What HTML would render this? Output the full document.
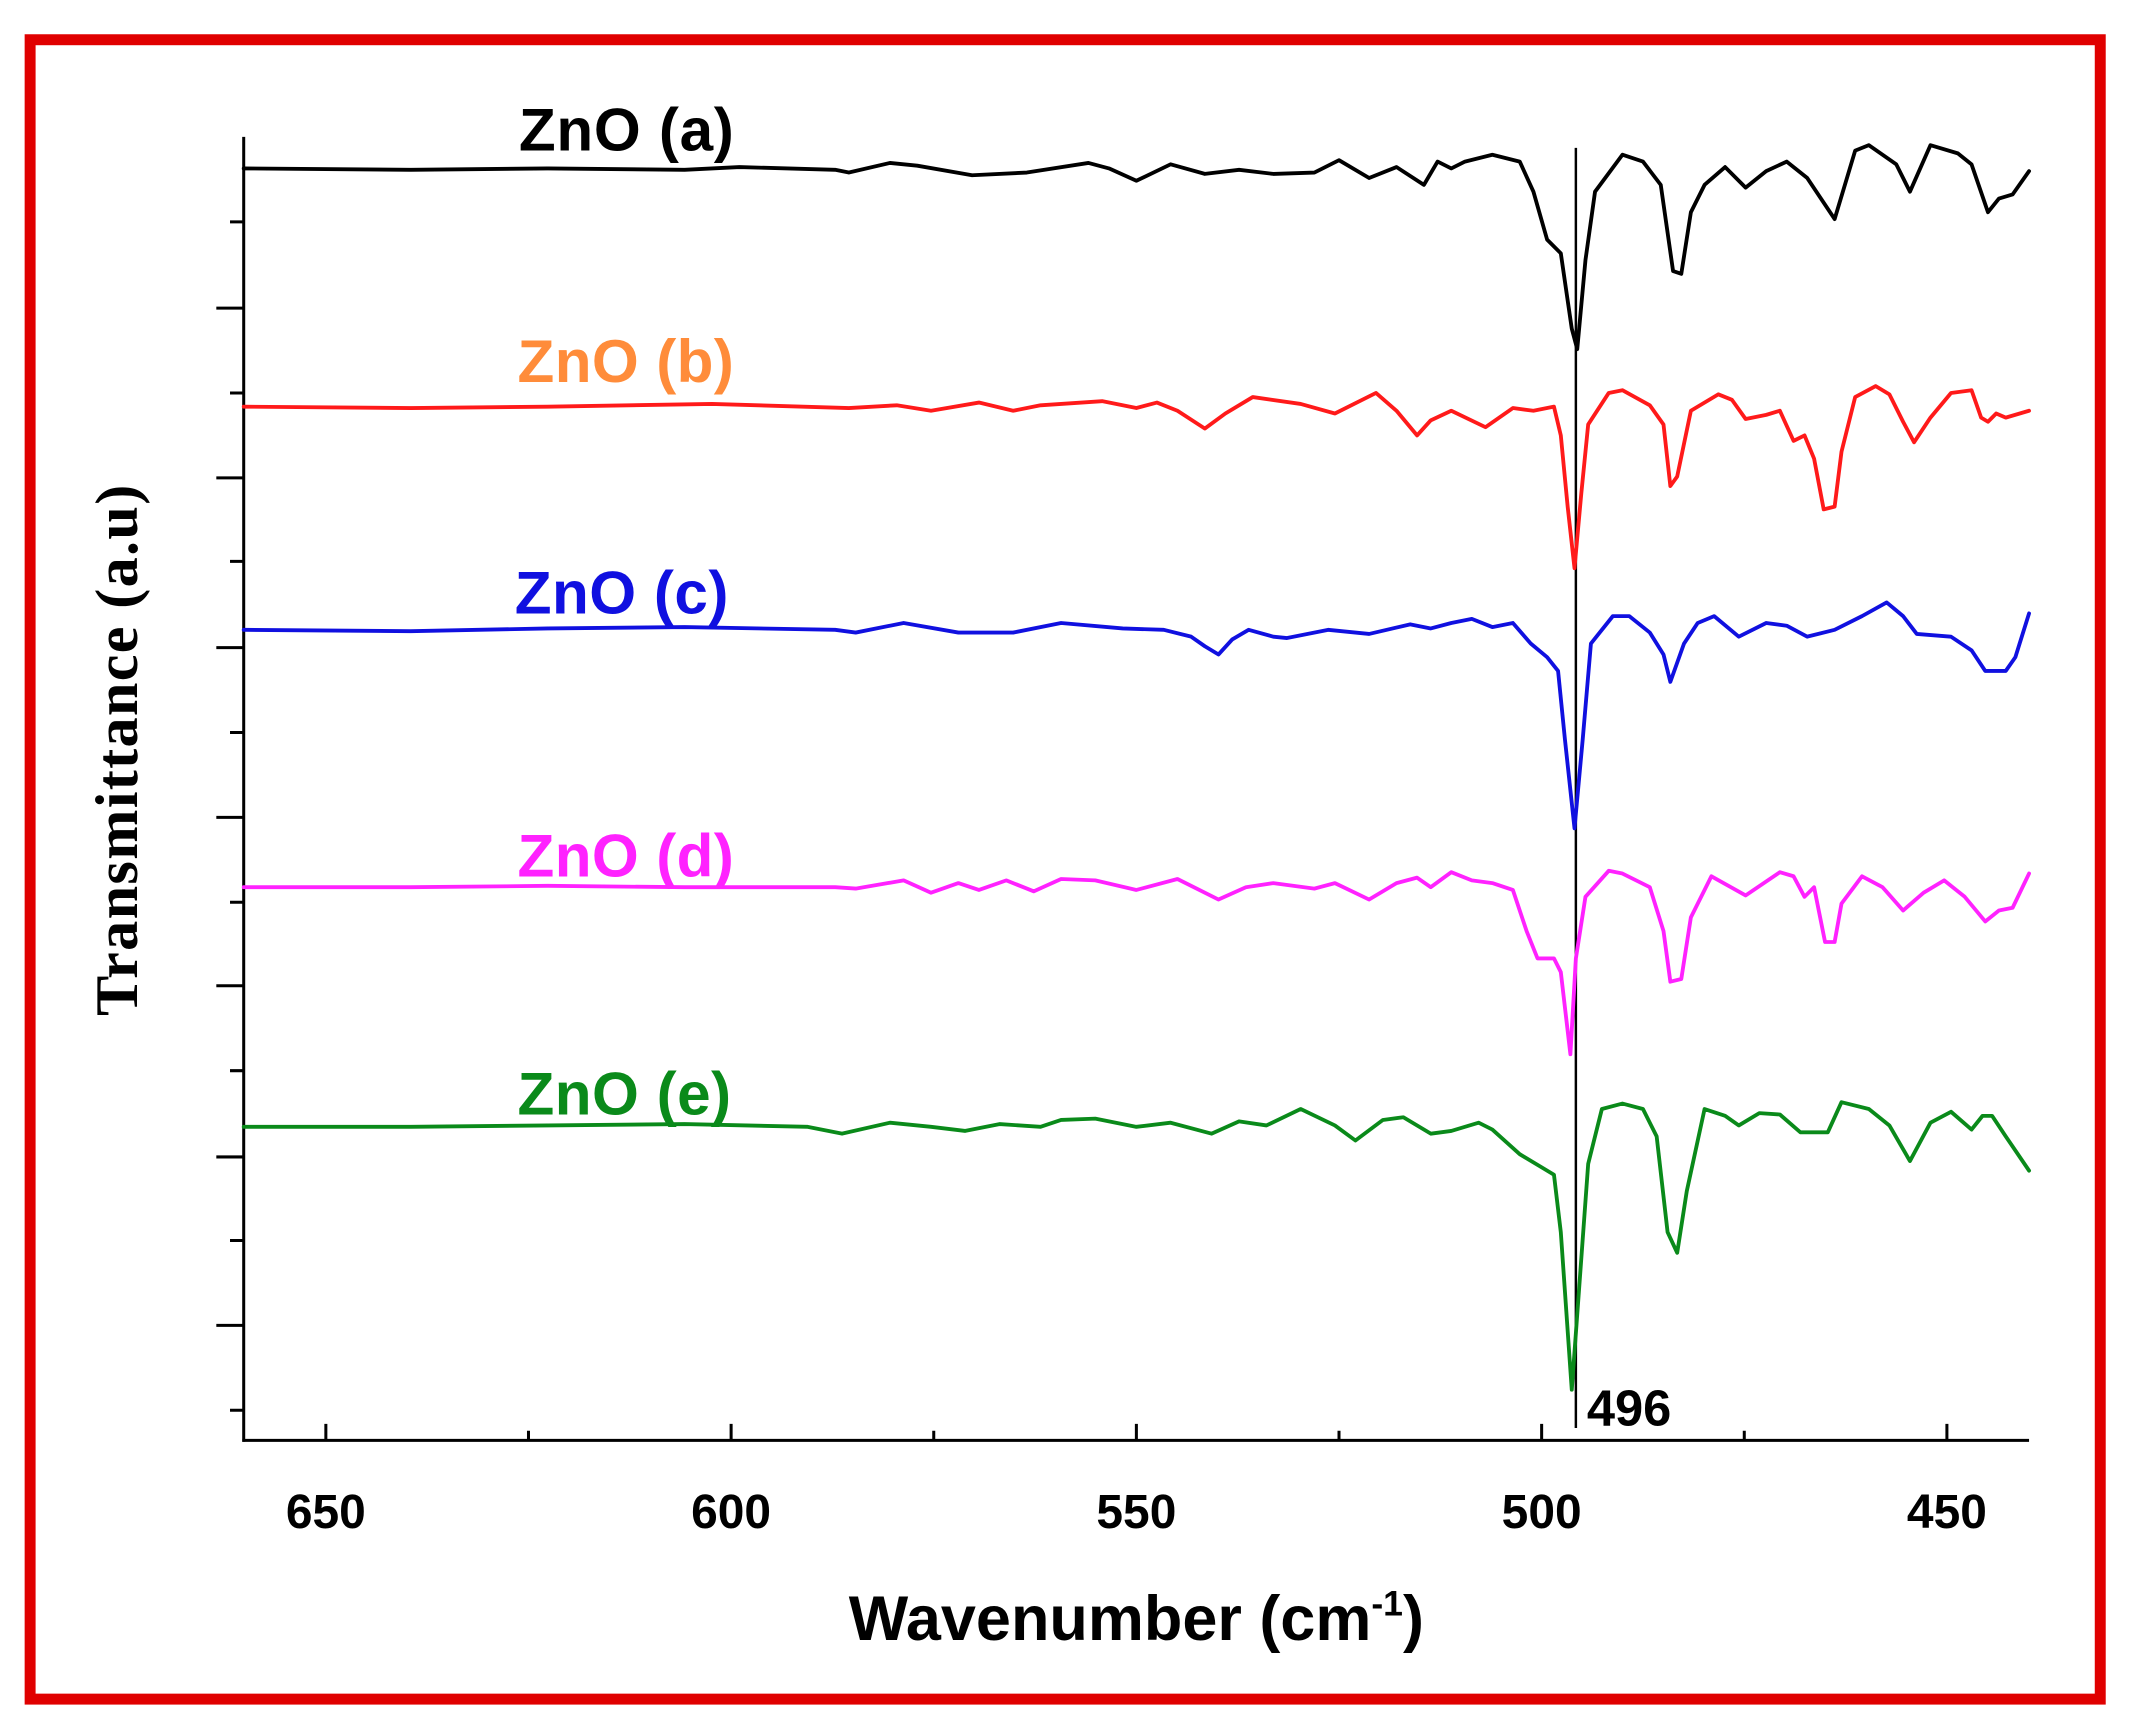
<!DOCTYPE html>
<html><head><meta charset="utf-8"><style>html,body{margin:0;padding:0;background:#fff}svg{display:block}</style></head>
<body>
<svg width="2129" height="1732" viewBox="0 0 1555 1265" xmlns="http://www.w3.org/2000/svg">
<rect x="0" y="0" width="1555" height="1265" fill="#fff"/>
<rect x="22" y="29" width="1512" height="1212" fill="none" stroke="#e00000" stroke-width="8"/>
<g stroke="#000" stroke-width="2.2" fill="none">
<line x1="178" y1="100" x2="178" y2="1053"/>
<line x1="177" y1="1052" x2="1482" y2="1052"/>
<path d="M158 225H178M158 349H178M158 473H178M158 597H178M158 720H178M158 845H178M158 968H178M168 162H178M168 287H178M168 410H178M168 535H178M168 659H178M168 782H178M168 906H178M168 1030H178"/>
<path d="M238 1052V1040M534 1052V1040M830 1052V1040M1126 1052V1040M1422 1052V1040M386 1052V1045M682 1052V1045M978 1052V1045M1274 1052V1045"/>
<line x1="1151" y1="108" x2="1151" y2="1043" stroke-width="1.8"/>
</g>
<g fill="none" stroke-width="2.8" stroke-linejoin="round" stroke-linecap="round">
<polyline stroke="#000" points="178,123 300,124 400,123 500,124 540,122 610,124 620,126 650,119 670,121 710,128 750,126 795,119 810,123 830,132 855,120 880,127 905,124 930,127 960,126 978,117 1000,130 1020,122 1040,135 1050,118 1060,123 1070,118 1090,113 1110,118 1120,140 1130,175 1140,185 1148,240 1152,255 1158,190 1165,140 1185,113 1200,118 1213,135 1218,170 1222,198 1228,200 1235,155 1245,135 1260,122 1275,137 1290,125 1305,118 1320,130 1340,160 1355,110 1365,106 1385,120 1395,140 1410,106 1430,112 1440,120 1452,155 1460,145 1470,142 1482,125"/>
<polyline stroke="#ff1a1a" points="178,297 300,298 400,297 520,295 620,298 655,296 680,300 715,294 740,300 760,296 805,293 830,298 845,294 860,300 880,313 895,302 915,290 950,295 975,302 1005,287 1020,300 1035,318 1045,307 1060,300 1085,312 1105,298 1120,300 1135,297 1140,318 1145,370 1150,415 1155,360 1160,310 1175,287 1185,285 1205,296 1215,310 1220,355 1225,348 1235,300 1255,288 1265,292 1275,306 1290,303 1300,300 1310,322 1318,318 1325,335 1332,372 1340,370 1345,330 1355,290 1370,282 1380,288 1390,308 1398,323 1410,305 1425,287 1440,285 1447,305 1452,308 1458,302 1465,305 1482,300"/>
<polyline stroke="#1010e0" points="178,460 300,461 400,459 500,458 610,460 625,462 660,455 700,462 740,462 775,455 820,459 850,460 870,465 880,472 890,478 900,467 912,460 930,465 940,466 970,460 1000,463 1030,456 1045,459 1060,455 1075,452 1090,458 1105,455 1118,470 1130,480 1138,490 1143,540 1150,605 1156,540 1162,470 1178,450 1190,450 1205,462 1215,478 1220,498 1230,470 1240,455 1252,450 1270,465 1290,455 1305,457 1320,465 1340,460 1360,450 1378,440 1390,450 1400,463 1425,465 1440,475 1450,490 1465,490 1472,480 1482,448"/>
<polyline stroke="#ff22ff" points="178,648 300,648 400,647 500,648 610,648 625,649 660,643 680,652 700,645 715,650 735,643 755,651 775,642 800,643 830,650 860,642 890,657 910,648 930,645 960,649 975,645 1000,657 1020,645 1035,641 1045,648 1060,637 1075,643 1090,645 1105,650 1115,680 1123,700 1135,700 1140,710 1147,770 1151,700 1158,655 1175,636 1185,638 1205,648 1215,680 1220,717 1228,715 1235,670 1250,640 1275,654 1300,637 1310,640 1318,655 1325,648 1333,688 1340,688 1345,660 1360,640 1375,648 1390,665 1405,652 1420,643 1435,655 1450,673 1460,665 1470,663 1482,638"/>
<polyline stroke="#0a8a1a" points="178,823 300,823 400,822 500,821 590,823 615,828 650,820 680,823 705,826 730,821 760,823 775,818 800,817 830,823 855,820 885,828 905,819 925,822 950,810 975,822 990,833 1010,818 1025,816 1045,828 1060,826 1080,820 1090,825 1110,843 1125,852 1135,858 1140,900 1148,1015 1152,960 1160,850 1170,810 1185,806 1200,810 1210,830 1218,900 1225,915 1232,870 1245,810 1260,815 1270,822 1285,813 1300,814 1315,827 1335,827 1345,805 1365,810 1380,822 1395,848 1410,820 1425,812 1440,825 1448,815 1455,815 1465,830 1482,855"/>
</g>
<g font-family="Liberation Sans, sans-serif" font-weight="bold" font-size="44">
<text x="379" y="110" fill="#000" textLength="157">ZnO (a)</text>
<text x="378" y="279" fill="#ff8c3a" textLength="158">ZnO (b)</text>
<text x="376" y="448" fill="#1010e0" textLength="156">ZnO (c)</text>
<text x="378" y="640" fill="#ff22ff" textLength="158">ZnO (d)</text>
<text x="378" y="814" fill="#0a8a1a" textLength="156">ZnO (e)</text>
</g>
<g font-family="Liberation Sans, sans-serif" font-weight="bold" font-size="35" text-anchor="middle" fill="#000">
<text x="238" y="1116">650</text><text x="534" y="1116">600</text><text x="830" y="1116">550</text><text x="1126" y="1116">500</text><text x="1422" y="1116">450</text>
</g>
<text x="1159" y="1041" font-family="Liberation Sans, sans-serif" font-weight="bold" font-size="37">496</text>
<text x="830" y="1198" text-anchor="middle" font-family="Liberation Sans, sans-serif" font-weight="bold" font-size="46">Wavenumber (cm<tspan font-size="26" dy="-18">-1</tspan><tspan dy="18">)</tspan></text>
<text transform="translate(100,548) rotate(-90)" text-anchor="middle" font-family="Liberation Serif, serif" font-weight="bold" font-size="44" textLength="388">Transmittance (a.u)</text>
</svg>
</body></html>
